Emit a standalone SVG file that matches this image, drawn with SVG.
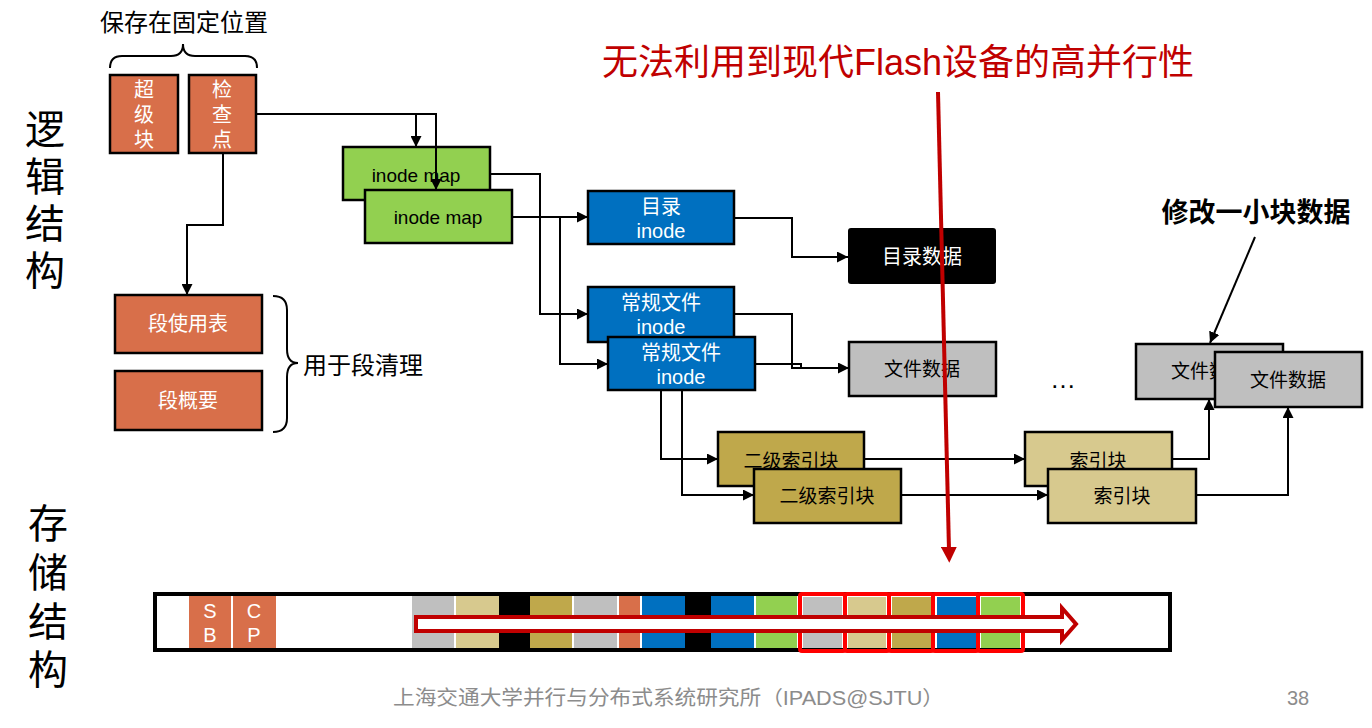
<svg xmlns="http://www.w3.org/2000/svg" width="1372" height="728" viewBox="0 0 1372 728">
  <defs>
    <marker id="arr" viewBox="0 0 10 10" refX="10" refY="5" markerWidth="11" markerHeight="11" markerUnits="userSpaceOnUse" orient="auto">
      <path d="M0,0 L10,5 L0,10 Z" fill="#000"/>
    </marker>
    <marker id="arrRed" viewBox="0 0 10 10" refX="2" refY="5" markerWidth="16" markerHeight="16" markerUnits="userSpaceOnUse" orient="auto">
      <path d="M0,0 L10,5 L0,10 Z" fill="#C00000"/>
    </marker>
    <style>
      text { font-family: "Liberation Sans", "Noto Sans CJK SC", sans-serif; }
      .box { stroke: #000; stroke-width: 2.5; }
      .seg { fill: #D86F4A; }
      .imap { fill: #92D050; }
      .ino { fill: #0070C0; }
      .gray { fill: #BFBFBF; }
      .olive { fill: #BFA84B; }
      .tan { fill: #D7C98E; }
      .wt { fill: #fff; font-size: 20px; text-anchor: middle; dominant-baseline: central; }
      .bt { fill: #000; font-size: 19px; text-anchor: middle; dominant-baseline: central; }
      .conn { fill: none; stroke: #000; stroke-width: 2; }
      .big { fill: #000; font-size: 40px; text-anchor: middle; dominant-baseline: central; }
      .note { fill: #000; font-size: 24px; dominant-baseline: central; }
      .cell { stroke: none; }
      .redbox { fill: none; stroke: #FF0000; stroke-width: 4; }
    </style>
  </defs>

  <!-- side headings -->
  <g id="logical-label">
    <text class="big" x="45" y="130">逻</text>
    <text class="big" x="45" y="177">辑</text>
    <text class="big" x="45" y="224">结</text>
    <text class="big" x="45" y="271">构</text>
  </g>
  <g id="storage-label">
    <text class="big" x="48" y="524">存</text>
    <text class="big" x="48" y="573">储</text>
    <text class="big" x="48" y="622">结</text>
    <text class="big" x="48" y="670">构</text>
  </g>

  <!-- fixed-location annotation -->
  <g id="fixed-note">
    <text class="note" x="100" y="22">保存在固定位置</text>
    <path d="M110,68 Q110,56 122,56 H171 Q183,56 183,44 Q183,56 195,56 H245 Q257,56 257,68" fill="none" stroke="#000" stroke-width="2"/>
  </g>

  <g id="superblock">
    <rect class="box seg" x="110" y="75" width="68" height="78"/>
    <text class="wt" x="144" y="90">超</text>
    <text class="wt" x="144" y="115">级</text>
    <text class="wt" x="144" y="140">块</text>
  </g>
  <g id="checkpoint">
    <rect class="box seg" x="189" y="75" width="67" height="78"/>
    <text class="wt" x="222" y="90">检</text>
    <text class="wt" x="222" y="115">查</text>
    <text class="wt" x="222" y="140">点</text>
  </g>

  <g id="seg-usage">
    <rect class="box seg" x="115" y="295" width="147" height="58"/>
    <text class="wt" x="188" y="324">段使用表</text>
  </g>
  <g id="seg-summary">
    <rect class="box seg" x="115" y="371" width="147" height="59"/>
    <text class="wt" x="188" y="401">段概要</text>
  </g>
  <g id="cleaning-note">
    <path d="M273,296 Q287,296 287,310 V349 Q287,363 298,363 Q287,363 287,377 V418 Q287,432 273,432" fill="none" stroke="#000" stroke-width="2"/>
    <text class="note" x="303" y="365">用于段清理</text>
  </g>

  <g id="imap1">
    <rect class="box imap" x="343" y="147" width="147" height="53"/>
    <text class="bt" x="416" y="175">inode map</text>
  </g>
  <g id="imap2">
    <rect class="box imap" x="365" y="190" width="147" height="53"/>
    <text class="bt" x="438" y="217">inode map</text>
  </g>

  <g id="dir-inode">
    <rect class="box ino" x="588" y="191" width="146" height="53"/>
    <text class="wt" x="661" y="207">目录</text>
    <text class="wt" x="661" y="231">inode</text>
  </g>
  <g id="file-inode1">
    <rect class="box ino" x="588" y="287" width="146" height="55"/>
    <text class="wt" x="661" y="303">常规文件</text>
    <text class="wt" x="661" y="327">inode</text>
  </g>
  <g id="file-inode2">
    <rect class="box ino" x="608" y="337" width="147" height="53"/>
    <text class="wt" x="681" y="353">常规文件</text>
    <text class="wt" x="681" y="377">inode</text>
  </g>

  <g id="dir-data">
    <rect x="848" y="228" width="148" height="56" rx="3" fill="#000"/>
    <text class="wt" x="922" y="257">目录数据</text>
  </g>
  <g id="file-data">
    <rect class="box gray" x="849" y="342" width="147" height="54"/>
    <text class="bt" x="922" y="369">文件数据</text>
  </g>

  <g id="ind2-a">
    <rect class="box olive" x="718" y="432" width="146" height="54"/>
    <text class="bt" x="791" y="461">二级索引块</text>
  </g>
  <g id="ind2-b">
    <rect class="box olive" x="754" y="469" width="147" height="54"/>
    <text class="bt" x="827" y="496">二级索引块</text>
  </g>

  <g id="ind-a">
    <rect class="box tan" x="1025" y="432" width="147" height="54"/>
    <text class="bt" x="1098" y="461">索引块</text>
  </g>
  <g id="ind-b">
    <rect class="box tan" x="1048" y="469" width="148" height="54"/>
    <text class="bt" x="1122" y="496">索引块</text>
  </g>

  <g id="file-data-old">
    <rect class="box gray" x="1136" y="344" width="147" height="55"/>
    <text class="bt" x="1209" y="371">文件数据</text>
  </g>
  <g id="file-data-new">
    <rect class="box gray" x="1215" y="352" width="147" height="55"/>
    <text class="bt" x="1288" y="380">文件数据</text>
  </g>

  <g id="ellipsis">
    <text x="1063" y="379" font-size="26" text-anchor="middle" dominant-baseline="central" fill="#000">…</text>
  </g>

  <g id="modify-note">
    <text x="1256" y="213" font-size="27" font-weight="bold" text-anchor="middle" dominant-baseline="central" fill="#000">修改一小块数据</text>
  </g>

  <!-- connectors -->
  <g id="connectors">
    <path class="conn" d="M256,114 H436 V190" marker-end="url(#arr)"/>
    <path class="conn" d="M416,114 V147" marker-end="url(#arr)"/>
    <path class="conn" d="M223,153 V225 H187 V295" marker-end="url(#arr)"/>
    <path class="conn" d="M490,174 H540 V314 H588" marker-end="url(#arr)"/>
    <path class="conn" d="M512,217 H588" marker-end="url(#arr)"/>
    <path class="conn" d="M560,217 V364 H608" marker-end="url(#arr)"/>
    <path class="conn" d="M734,218 H792 V257 H848" marker-end="url(#arr)"/>
    <path class="conn" d="M734,314 H792 V368 H849" marker-end="url(#arr)"/>
    <path class="conn" d="M755,364 H801 V368"/>
    <path class="conn" d="M661,390 V459 H718" marker-end="url(#arr)"/>
    <path class="conn" d="M682,390 V495 H754" marker-end="url(#arr)"/>
    <path class="conn" d="M864,459 H1025" marker-end="url(#arr)"/>
    <path class="conn" d="M901,495 H1048" marker-end="url(#arr)"/>
    <path class="conn" d="M1172,459 H1209 V399" marker-end="url(#arr)"/>
    <path class="conn" d="M1196,495 H1288 V407" marker-end="url(#arr)"/>
    <path class="conn" d="M1255,237 L1210,343" marker-end="url(#arr)"/>
  </g>

  <!-- on-disk log layout -->
  <g id="storage-bar">
    <rect x="155" y="594" width="1015" height="56" fill="#fff" stroke="#000" stroke-width="4"/>
    <rect class="cell seg" x="189" y="596" width="42" height="52"/>
    <rect class="cell seg" x="233" y="596" width="43" height="52"/>
    <text class="wt" x="210" y="611">S</text>
    <text class="wt" x="210" y="635">B</text>
    <text class="wt" x="254" y="611">C</text>
    <text class="wt" x="254" y="635">P</text>
    <rect class="cell gray" x="412" y="596" width="42" height="52"/>
    <rect class="cell tan" x="456" y="596" width="43" height="52"/>
    <rect class="cell" x="499" y="596" width="31" height="52" fill="#000"/>
    <rect class="cell olive" x="530" y="596" width="42" height="52"/>
    <rect class="cell gray" x="574" y="596" width="43" height="52"/>
    <rect class="cell seg" x="619" y="596" width="21" height="52"/>
    <rect class="cell ino" x="642" y="596" width="43" height="52"/>
    <rect class="cell" x="685" y="596" width="26" height="52" fill="#000"/>
    <rect class="cell ino" x="711" y="596" width="43" height="52"/>
    <rect class="cell imap" x="756" y="596" width="41" height="52"/>
    <rect class="cell gray" x="803" y="597" width="39" height="51"/>
    <rect class="cell tan" x="848" y="597" width="38" height="51"/>
    <rect class="cell olive" x="892" y="597" width="39" height="51"/>
    <rect class="cell ino" x="937" y="597" width="39" height="51"/>
    <rect class="cell imap" x="981" y="597" width="39" height="51"/>
    <rect class="redbox" x="800" y="594" width="45" height="57" rx="2"/>
    <rect class="redbox" x="845" y="594" width="44" height="57" rx="2"/>
    <rect class="redbox" x="889" y="594" width="44" height="57" rx="2"/>
    <rect class="redbox" x="933" y="594" width="45" height="57" rx="2"/>
    <rect class="redbox" x="978" y="594" width="45" height="57" rx="2"/>
    <path d="M416,617 H1062 V608 L1076,624 L1062,640 V631 H416 Z" fill="#fff" stroke="#C00000" stroke-width="4" stroke-linejoin="miter"/>
  </g>

  <!-- parallelism remark -->
  <g id="parallel-note">
    <text x="898" y="62" font-size="36" text-anchor="middle" dominant-baseline="central" fill="#C00000">无法利用到现代Flash设备的高并行性</text>
    <line x1="938" y1="92" x2="949" y2="550" stroke="#C00000" stroke-width="4" marker-end="url(#arrRed)"/>
  </g>

  <g id="footer">
    <text x="393" y="698" font-size="20" fill="#8C8C8C" dominant-baseline="central" textLength="551" lengthAdjust="spacingAndGlyphs">上海交通大学并行与分布式系统研究所（IPADS@SJTU）</text>
    <text x="1298" y="698" font-size="20" fill="#8C8C8C" text-anchor="middle" dominant-baseline="central">38</text>
  </g>
</svg>
